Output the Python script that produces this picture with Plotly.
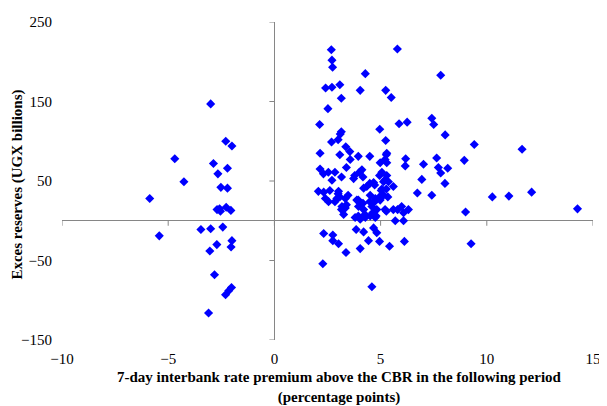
import plotly.graph_objects as go

# x: 7-day interbank rate premium (pp), y: excess reserves (UGX bn)
left_x = [-3.0, -2.29, -2.0, -4.69, -2.87, -2.21, -2.66, -4.26, -2.52, -2.21, -5.87,
          -2.70, -2.58, -2.54, -2.27, -2.05, -3.46, -3.0, -2.43, -5.42, -2.0, -2.04,
          -2.71, -3.04, -2.82, -2.02, -2.15, -2.30, -3.10]
left_y = [147, 100, 94, 78, 72, 66, 59, 49, 42, 41, 28,
          14, 15, 12, 17, 13, -11, -10, -8, -19, -25, -33,
          -30, -38, -68, -84, -88, -93, -116]

upper_x = [2.68, 2.71, 2.74, 4.28, 2.41, 2.71, 3.08, 4.04, 3.15, 2.52, 2.13, 3.15, 3.10, 4.96,
           5.79, 7.83, 5.24, 5.50, 5.87, 6.25, 7.41, 7.50, 8.04,
           2.69, 3.0, 3.36, 3.55, 2.15, 3.08, 3.57, 3.95, 4.49, 4.98]
upper_y = [215, 202, 193, 185, 167, 168, 171, 164, 154, 141, 121, 112, 109, 115,
           216, 183, 164, 155, 122, 124, 129, 121, 108,
           99, 102, 93, 87, 85, 83, 77, 81, 81, 73]

dense_x = [2.15, 2.31, 2.54, 2.85, 3.16, 3.39, 3.78, 4.00, 4.17, 4.12,
           2.71, 3.73, 4.20, 4.35, 4.49, 4.72, 4.67,
           2.07, 2.32, 2.61, 3.00, 3.47, 3.02,
           2.40, 2.94, 3.34, 3.88, 4.51, 4.75, 4.98,
           2.55, 2.85, 3.08, 3.95, 4.17, 4.49, 4.72,
           3.18, 3.34, 3.39, 3.96, 4.20, 4.59, 4.82, 3.16,
           3.26, 3.80, 4.04, 4.28, 4.51, 4.75, 3.95, 4.26, 4.63, 4.79]
dense_y = [65, 59, 61, 61, 55, 67, 57, 61, 55, 64,
           51, 53, 41, 43, 47, 45, 48,
           37, 36, 38, 34, 32, 37,
           28, 28, 28, 26, 32, 28, 26,
           24, 24, 30, 26, 22, 24, 24,
           18, 16, 20, 18, 14, 18, 14, 14,
           8, 4, 2, 4, 6, 4, 6, 8, 10, 6]

mid_x = [4.95, 5.19, 5.03, 5.27, 4.95, 5.34, 5.06, 5.29, 5.14, 5.37, 5.60, 5.06, 5.14,
         5.24, 5.29, 5.21, 5.29, 5.27,
         6.18, 6.16, 7.02, 7.64, 7.72, 7.83, 8.16, 8.94, 9.41, 6.94, 8.03, 6.73, 7.41,
         5.21, 5.60, 5.99, 6.31, 6.08, 5.69, 6.08, 5.27, 5.80, 9.0,
         11.66, 10.26, 11.04, 12.11, 14.27]
mid_y = [57, 51, 38, 40, 30, 30, 61, 57, 49, 49, 43, 40, 32,
         101, 85, 77, 73, 83,
         78, 69, 71, 79, 67, 60, 66, 76, 96, 52, 47, 35, 32,
         14, 14, 18, 14, 10, 0, 0, 12, 14, 11,
         90, 30, 31, 36, 15]

lower_x = [2.32, 2.75, 2.75, 3.02, 3.37, 2.28, 3.85, 4.20, 4.67, 4.82, 4.43, 4.04,
           4.95, 5.42, 6.12, 4.59, 9.26]
lower_y = [-16, -18, -25, -29, -40, -54, -11, -14, -9, -15, -25, -35,
           -26, -32, -26, -83, -29]

x_vals = left_x + upper_x + dense_x + mid_x + lower_x
y_vals = left_y + upper_y + dense_y + mid_y + lower_y

x_ticks = [-10, -5, 0, 5, 10, 15]
y_ticks = [-150, -50, 50, 150, 250]

x_title = "7-day interbank rate premium above the CBR in the following period<br>(percentage points)"
y_title = "Exces reserves (UGX billions)"

AXIS_GREY = "#868686"
FONT = "Liberation Serif, Times New Roman, serif"

fig = go.Figure()
fig.add_trace(go.Scatter(
    x=x_vals, y=y_vals, mode="markers",
    marker=dict(symbol="diamond", size=7, color="#0000FF", line=dict(width=0)),
    showlegend=False, hoverinfo="x+y",
))

shapes = []
for t in x_ticks:
    shapes.append(dict(type="line", xref="x", yref="y", ysizemode="pixel", yanchor=0,
                       x0=t, x1=t, y0=0, y1=-5, line=dict(color=AXIS_GREY, width=1)))
for t in y_ticks:
    shapes.append(dict(type="line", xref="x", yref="y", xsizemode="pixel", xanchor=0,
                       x0=0, x1=-5, y0=t, y1=t, line=dict(color=AXIS_GREY, width=1)))

fig.update_layout(
    width=599, height=398,
    margin=dict(l=54, r=9, t=6, b=66),
    paper_bgcolor="white", plot_bgcolor="white",
    font=dict(family=FONT, size=15, color="black"),
    shapes=shapes,
    xaxis=dict(range=[-10, 15], tickvals=x_ticks, showgrid=False, showline=False,
               zeroline=True, zerolinecolor=AXIS_GREY, zerolinewidth=1,
               ticks="", ticklabelstandoff=8, ticklabeloverflow="allow",
               tickfont=dict(size=15)),
    yaxis=dict(range=[-150, 250], tickvals=y_ticks, showgrid=False, showline=False,
               zeroline=True, zerolinecolor=AXIS_GREY, zerolinewidth=1,
               ticks="", ticklabelstandoff=9, ticklabeloverflow="allow",
               tickfont=dict(size=15)),
    annotations=[
        dict(text="<b>" + x_title.replace("<br>", "</b><br><b>") + "</b>",
             xref="paper", yref="paper", x=0.522, y=-0.15,
             xanchor="center", yanchor="middle", showarrow=False,
             font=dict(size=15, family=FONT)),
        dict(text="<b>" + y_title + "</b>", textangle=-90,
             xref="paper", yref="paper", x=-0.084, y=0.49,
             xanchor="center", yanchor="middle", showarrow=False,
             font=dict(size=15, family=FONT)),
    ],
)

fig.write_html("out.html")
